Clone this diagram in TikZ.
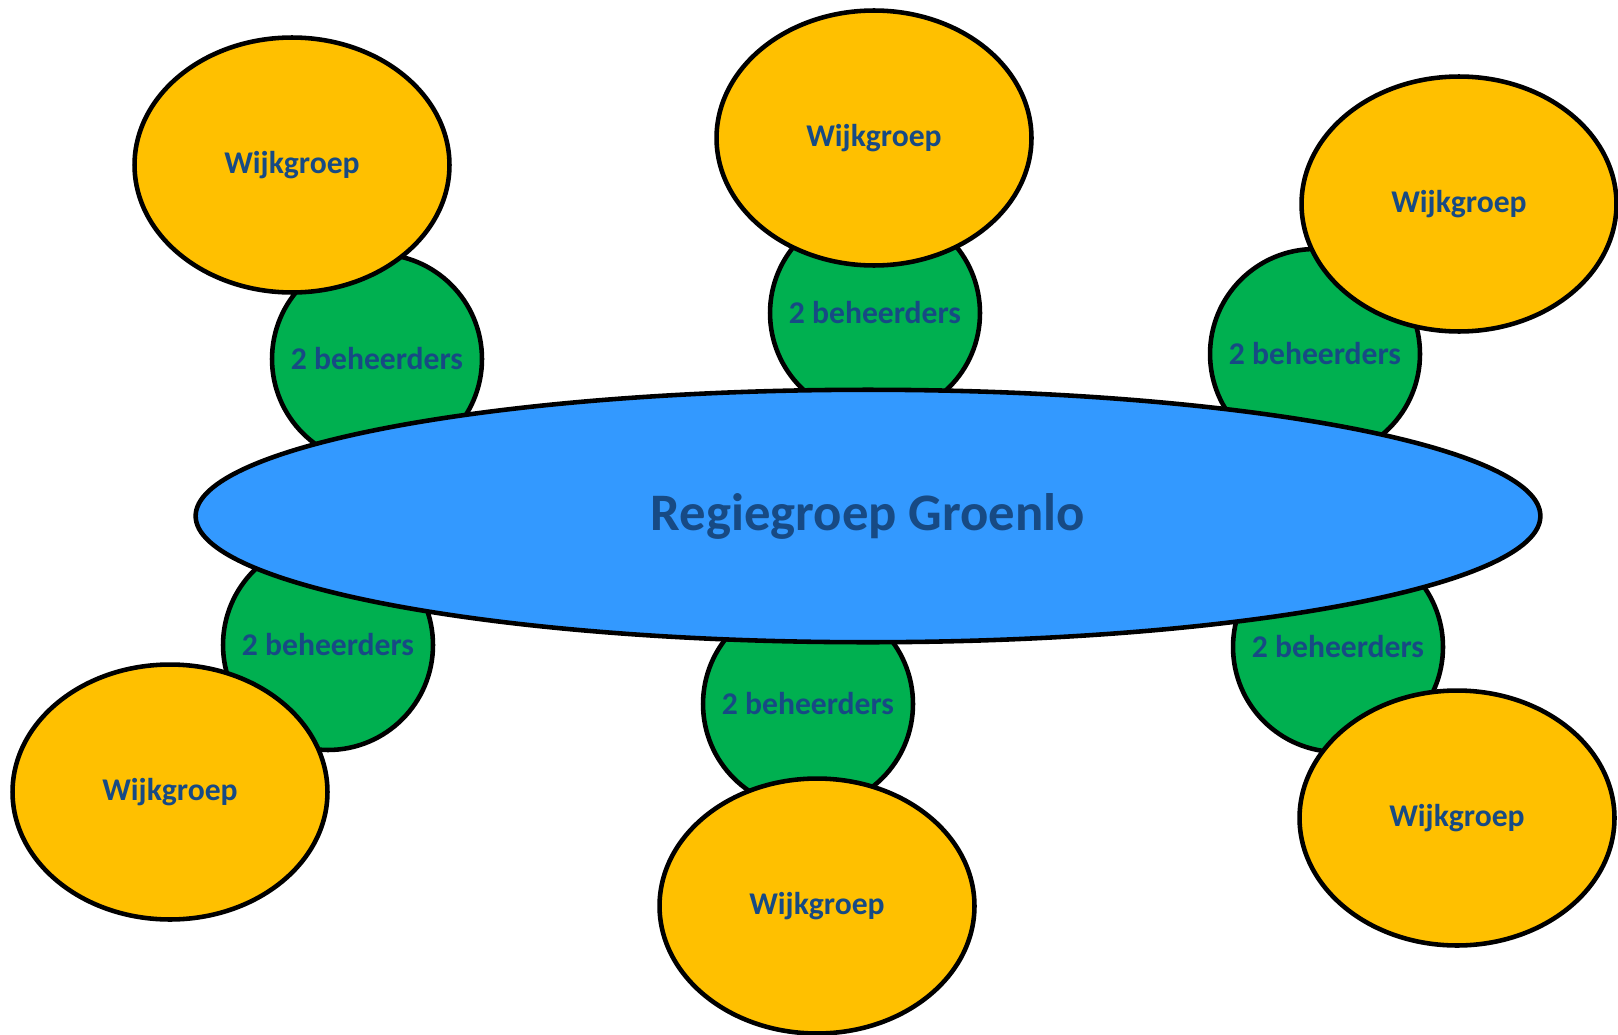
\documentclass[tikz,border=0pt]{standalone}
\usepackage{fontspec}
\setmainfont{Carlito}
\usepackage{xcolor}
\usepackage{tikz}
\usetikzlibrary{shapes.geometric, positioning}

\definecolor{wijkyellow}{HTML}{FFC000}
\definecolor{beheergreen}{HTML}{00B050}
\definecolor{regieblue}{HTML}{3399FF}
\definecolor{textblue}{HTML}{174A84}

\begin{document}
\begin{tikzpicture}[
    x=0.02cm, y=-0.02cm,
    wijk/.style={ellipse, draw=black, line width=2.6pt, fill=wijkyellow, minimum width=6.3cm, minimum height=5.1cm, inner sep=0pt, text=textblue, font=\fontsize{18}{21}\selectfont\bfseries},
    beheer/.style={circle, draw=black, line width=2.6pt, fill=beheergreen, minimum size=4.2cm, inner sep=0pt, text=textblue, font=\fontsize{18}{21}\selectfont\bfseries},
    regie/.style={ellipse, draw=black, line width=2.6pt, fill=regieblue, minimum width=26.9cm, minimum height=5.05cm, inner sep=0pt, text=textblue, font=\fontsize{30}{34}\selectfont\bfseries}
]
    \useasboundingbox (0, 0) rectangle (1618, 1034);

    % Beheerders
    \node[beheer] (beheerTL) at (377, 359) {2 beheerders};
    \node[beheer] (beheerTM) at (875, 313) {2 beheerders};
    \node[beheer] (beheerTR) at (1315, 354) {2 beheerders};
    \node[beheer] (beheerBL) at (328, 645) {2 beheerders};
    \node[beheer] (beheerBM) at (808, 704) {2 beheerders};
    \node[beheer] (beheerBR) at (1338, 647) {2 beheerders};

    % Regiegroep
    \node[regie] (regiegroep) at (868, 516) {Regiegroep Groenlo};

    % Wijkgroepen
    \node[wijk] (wijkTL) at (292, 165) {Wijkgroep};
    \node[wijk] (wijkTM) at (874, 138) {Wijkgroep};
    \node[wijk] (wijkTR) at (1459, 204) {Wijkgroep};
    \node[wijk] (wijkBL) at (170, 792) {Wijkgroep};
    \node[wijk] (wijkBM) at (817, 906) {Wijkgroep};
    \node[wijk] (wijkBR) at (1457, 818) {Wijkgroep};
\end{tikzpicture}
\end{document}
